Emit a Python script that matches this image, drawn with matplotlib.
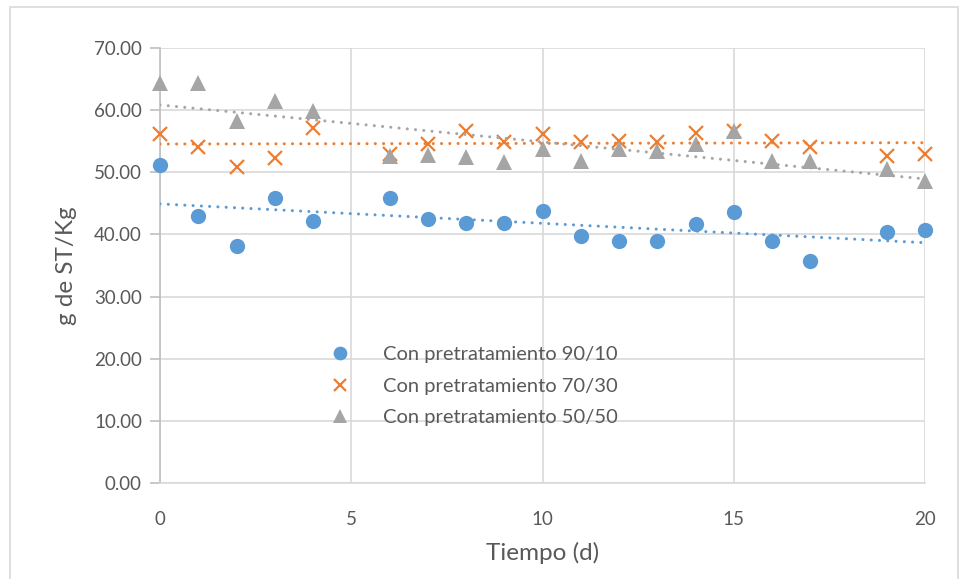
import matplotlib
matplotlib.use('Agg')
import matplotlib.pyplot as plt
from matplotlib.patches import Rectangle
import numpy as np

# dias de muestreo (no hay datos en el dia 5 ni en el 18)
dias = [0, 1, 2, 3, 4, 6, 7, 8, 9, 10, 11, 12, 13, 14, 15, 16, 17, 19, 20]

st_90_10 = [51.1, 42.9, 38.2, 45.8, 42.2, 45.8, 42.5, 41.9, 41.8, 43.7,
            39.8, 39.0, 39.0, 41.7, 43.6, 39.0, 35.8, 40.4, 40.7]
st_70_30 = [56.2, 54.1, 50.9, 52.3, 57.1, 52.9, 54.5, 56.7, 54.8, 56.2,
            54.95, 55.05, 54.8, 56.4, 56.7, 55.05, 54.1, 52.65, 53.0]
st_50_50 = [64.4, 64.4, 58.2, 61.5, 59.9, 52.6, 52.8, 52.5, 51.7, 53.7,
            51.8, 53.7, 53.5, 54.6, 56.6, 51.8, 51.8, 50.45, 48.6]

etiquetas = ["Con pretratamiento 90/10", "Con pretratamiento 70/30",
             "Con pretratamiento 50/50"]
yticks = [0, 10, 20, 30, 40, 50, 60, 70]
xticks = [0, 5, 10, 15, 20]

azul = "#5B9BD5"
naranja = "#ED7D31"
gris = "#A5A5A5"
texto = "#595959"

plt.rcParams['font.family'] = ['Lato', 'DejaVu Sans']

fig = plt.figure(figsize=(9.59, 5.79), dpi=100)
# borde del area del grafico
fig.patches.append(Rectangle((10/959, -0.01), 948/959, 1 - 7/579 + 0.01,
                             transform=fig.transFigure, fill=False,
                             edgecolor="#D9D9D9", lw=1.2))

ax = fig.add_axes([160/959, 1 - 483/579, 765/959, 435/579])

x = np.array(dias, dtype=float)
series = [
    (st_90_10, azul, dict(marker='o', markersize=11, markeredgewidth=0)),
    (st_70_30, naranja, dict(marker='x', markersize=10, markeredgewidth=1.6)),
    (st_50_50, gris, dict(marker='^', markersize=11.5, markeredgewidth=0)),
]

handles = []
for i, (y, c, mk) in enumerate(series):
    h, = ax.plot(x, y, linestyle='none', color=c, zorder=3 + i,
                 clip_on=False, **mk)
    handles.append(h)

# lineas de tendencia lineales
for y, c, mk in series:
    m, b = np.polyfit(x, y, 1)
    xt = np.array([0, 20])
    ax.plot(xt, m * xt + b, color=c, lw=2.2, linestyle=(0, (0.01, 2.7)),
            dash_capstyle='round', zorder=6)

ax.set_xlim(0, 20)
ax.set_ylim(0, 70)
ax.set_xticks(xticks)
ax.set_yticks(yticks)
ax.set_yticklabels(["%.2f" % v for v in yticks])
ax.grid(True, color="#D9D9D9", lw=1.2)
ax.set_axisbelow(True)

for s in ['top', 'right']:
    ax.spines[s].set_visible(False)
ax.spines['left'].set_color("#BFBFBF")
ax.spines['bottom'].set_color("#D9D9D9")
ax.spines['left'].set_linewidth(1.2)
ax.spines['bottom'].set_linewidth(1.2)
ax.tick_params(axis='y', length=7, width=1.2, color="#BFBFBF",
               labelsize=13.5, labelcolor=texto, pad=6)
ax.tick_params(axis='x', length=0, labelsize=13.5, labelcolor=texto, pad=20)

ax.set_xlabel("Tiempo (d)", fontsize=17.5, color=texto, labelpad=10)
ax.set_ylabel("g de ST/Kg", fontsize=17.5, color=texto, labelpad=12)

leg = ax.legend(handles, etiquetas, loc='upper left',
                bbox_to_anchor=(0.199, 0.352), frameon=False,
                fontsize=14.5, labelcolor=texto, handlelength=1.2,
                handletextpad=1.5, labelspacing=0.72, borderpad=0.3,
                markerscale=0.9)

fig.savefig("out.png", dpi=100)
